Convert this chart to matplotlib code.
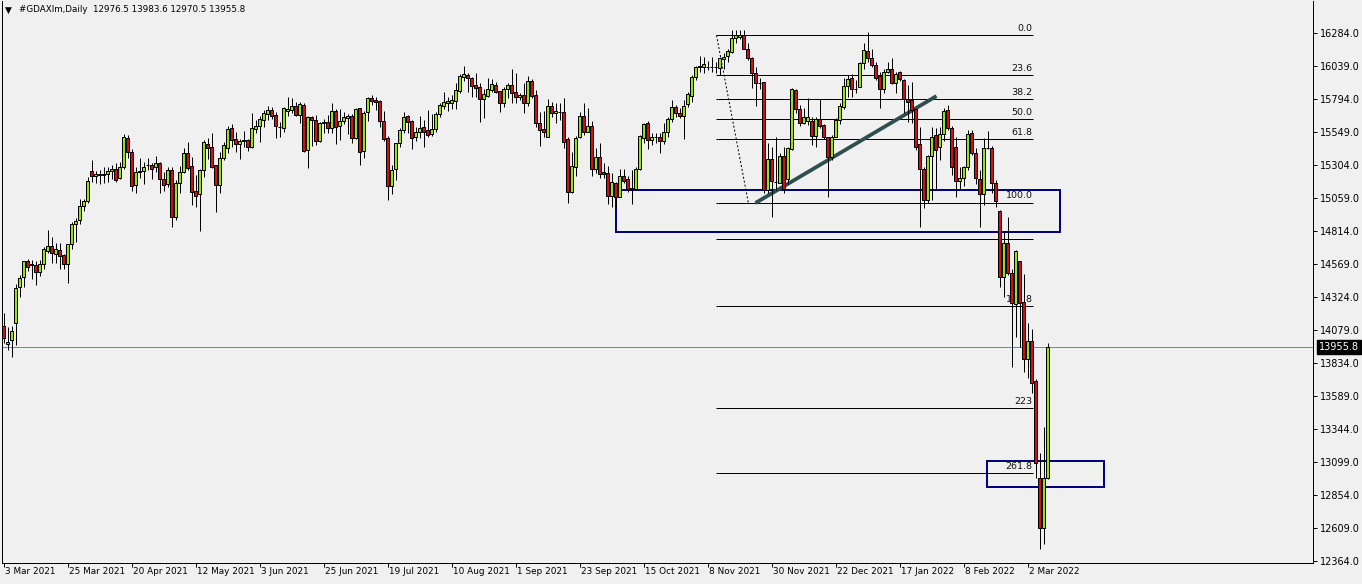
import matplotlib
matplotlib.use("Agg")
import matplotlib.pyplot as plt
from matplotlib.patches import Rectangle

W, H, DPI = 1362, 584, 100

# ---------------- data ----------------
date_labels = ["3 Mar 2021", "25 Mar 2021", "20 Apr 2021", "12 May 2021", "3 Jun 2021",
               "25 Jun 2021", "19 Jul 2021", "10 Aug 2021", "1 Sep 2021", "23 Sep 2021",
               "15 Oct 2021", "8 Nov 2021", "30 Nov 2021", "22 Dec 2021", "17 Jan 2022",
               "8 Feb 2022", "2 Mar 2022"]
label_every = 16

opens = [14111, 13975, 14005, 14129, 14396, 14470, 14589, 14569, 14560, 14512,
         14569, 14668, 14700, 14645, 14671, 14636, 14567, 14715, 14864, 14894,
         14998, 15039, 15257, 15220, 15230, 15232, 15239, 15257, 15274, 15205,
         15287, 15502, 15398, 15153, 15250, 15262, 15302, 15302, 15287, 15317,
         15198, 15161, 15265, 14916, 15170, 15254, 15391, 15294, 15109, 15086,
         15265, 15458, 15435, 15302, 15158, 15358, 15428, 15576, 15495, 15458,
         15485, 15487, 15435, 15574, 15596, 15638, 15683, 15710, 15675, 15588,
         15581, 15703, 15715, 15740, 15675, 15749, 15413, 15658, 15636, 15482,
         15618, 15621, 15581, 15705, 15591, 15628, 15655, 15665, 15502, 15725,
         15410, 15695, 15799, 15784, 15779, 15628, 15502, 15150, 15272, 15465,
         15566, 15668, 15631, 15514, 15551, 15584, 15564, 15532, 15569, 15680,
         15744, 15767, 15767, 15781, 15851, 15960, 15972, 15950, 15898, 15885,
         15796, 15819, 15863, 15898, 15853, 15767, 15866, 15900, 15844, 15807,
         15824, 15762, 15928, 15822, 15614, 15571, 15514, 15742, 15692, 15695,
         15695, 15495, 15106, 15287, 15510, 15668, 15551, 15594, 15272, 15363,
         15252, 15242, 15076, 15173, 15069, 15222, 15198, 15126, 15126, 15274,
         15507, 15614, 15490, 15510, 15510, 15484, 15549, 15643, 15735, 15690,
         15665, 15755, 15816, 15960, 16029, 16029, 16029, 16029, 16029, 16022,
         16089, 16116, 16141, 16245, 16252, 16269, 16163, 16096, 15989, 15915,
         15918, 15118, 15346, 15180, 15173, 15371, 15198, 15423, 15861, 15718,
         15614, 15631, 15633, 15522, 15643, 15601, 15510, 15361, 15514, 15638,
         15737, 15891, 15948, 15866, 15885, 16059, 16150, 16096, 16046, 15965,
         15866, 15997, 16014, 15911, 15992, 15935, 15792, 15787, 15718, 15460,
         15272, 15044, 15371, 15527, 15440, 15534, 15712, 15576, 15435, 15188,
         15205, 15292, 15544, 15391, 15198, 15089, 15428, 15428, 15168, 14963,
         14475, 14723, 14504, 14272, 14591, 14289, 13862, 13995, 13700, 12983,
         12611, 12976.5]

highs = [14203, 14104, 14109, 14418, 14487, 14592, 14604, 14599, 14589, 14599,
         14698, 14821, 14771, 14722, 14722, 14640, 14718, 14883, 14908, 15049,
         15051, 15218, 15341, 15259, 15267, 15292, 15292, 15304, 15317, 15324,
         15534, 15527, 15421, 15292, 15354, 15329, 15354, 15321, 15371, 15329,
         15254, 15292, 15292, 15193, 15297, 15428, 15475, 15363, 15230, 15272,
         15490, 15502, 15539, 15304, 15398, 15473, 15594, 15606, 15549, 15495,
         15556, 15495, 15692, 15638, 15668, 15712, 15742, 15737, 15700, 15626,
         15737, 15811, 15804, 15770, 15774, 15767, 15668, 15670, 15675, 15621,
         15648, 15675, 15767, 15718, 15720, 15700, 15683, 15680, 15725, 15730,
         15705, 15811, 15824, 15811, 15787, 15705, 15519, 15304, 15470, 15576,
         15700, 15675, 15638, 15588, 15668, 15638, 15712, 15683, 15700, 15762,
         15848, 15811, 15824, 15915, 15980, 16039, 15985, 15960, 15985, 15911,
         15866, 15948, 15941, 15923, 15853, 15885, 15911, 16017, 15985, 15841,
         15915, 15965, 15941, 15861, 15700, 15705, 15794, 15770, 15762, 15762,
         15799, 15514, 15398, 15519, 15700, 15767, 15725, 15631, 15428, 15470,
         15317, 15297, 15247, 15178, 15272, 15272, 15222, 15267, 15287, 15527,
         15618, 15628, 15539, 15539, 15539, 15614, 15663, 15787, 15749, 15725,
         15787, 15848, 15972, 16039, 16113, 16108, 16078, 16108, 16071, 16103,
         16133, 16163, 16306, 16306, 16306, 16306, 16207, 16103, 16034, 15948,
         15918, 15465, 15440, 15510, 15395, 15435, 15435, 15873, 15866, 15749,
         15725, 15799, 15663, 15658, 15792, 15608, 15514, 15527, 15651, 15762,
         15948, 15972, 15980, 15935, 16071, 16207, 16294, 16163, 16071, 15997,
         16014, 16071, 16096, 15997, 16004, 15941, 15898, 15923, 15720, 15588,
         15292, 15378, 15588, 15576, 15588, 15725, 15749, 15594, 15510, 15292,
         15297, 15564, 15564, 15428, 15267, 15502, 15559, 15445, 15193, 14968,
         14809, 14920, 14530, 14673, 14591, 14495, 14129, 14084, 13713, 13164,
         13361, 13983.6]

lows = [13981, 13931, 13879, 13968, 14322, 14396, 14519, 14455, 14415, 14480,
        14534, 14653, 14579, 14579, 14529, 14531, 14430, 14678, 14732, 14864,
        14965, 15024, 15180, 15173, 15161, 15173, 15180, 15198, 15180, 15198,
        15272, 15354, 15113, 15094, 15205, 15161, 15267, 15198, 15252, 15094,
        15113, 15143, 14841, 14896, 15098, 15242, 15267, 15007, 14995, 14816,
        15218, 15349, 15280, 14957, 15098, 15341, 15395, 15435, 15403, 15351,
        15440, 15410, 15432, 15544, 15477, 15588, 15638, 15643, 15507, 15514,
        15551, 15670, 15688, 15670, 15618, 15400, 15284, 15445, 15453, 15477,
        15539, 15544, 15539, 15460, 15490, 15606, 15534, 15470, 15497, 15304,
        15358, 15633, 15749, 15712, 15588, 15484, 15044, 15089, 15193, 15440,
        15544, 15544, 15421, 15484, 15502, 15440, 15514, 15519, 15551, 15663,
        15718, 15705, 15718, 15718, 15836, 15930, 15848, 15811, 15811, 15626,
        15655, 15807, 15848, 15836, 15700, 15737, 15799, 15762, 15762, 15787,
        15688, 15742, 15804, 15588, 15445, 15514, 15510, 15663, 15618, 15638,
        15432, 15020, 15094, 15222, 15502, 15527, 15551, 15222, 15247, 15205,
        15205, 15015, 14995, 14983, 15069, 15168, 15106, 15015, 15118, 15267,
        15465, 15421, 15453, 15465, 15395, 15460, 15510, 15626, 15663, 15651,
        15495, 15737, 15774, 15935, 15997, 15990, 16009, 15997, 15985, 15972,
        16014, 16071, 16133, 16212, 16237, 16163, 16084, 15873, 15742, 15866,
        15094, 15094, 14920, 15118, 15168, 15094, 15163, 15415, 15688, 15594,
        15608, 15599, 15453, 15440, 15576, 15499, 15064, 15341, 15510, 15608,
        15718, 15807, 15807, 15836, 15885, 16014, 16071, 16034, 15935, 15725,
        15836, 15985, 15905, 15836, 15930, 15688, 15626, 15618, 15415, 14841,
        14983, 15024, 15044, 15124, 15341, 15484, 15564, 15230, 15064, 15118,
        15150, 15267, 15378, 15163, 14841, 15007, 15420, 15094, 14995, 14401,
        14322, 14487, 13802, 14025, 13951, 13770, 13721, 13614, 12978, 12451,
        12488, 12970.5]

closes = [14018, 13990, 14072, 14389, 14463, 14589, 14549, 14560, 14512, 14567,
          14678, 14700, 14648, 14678, 14631, 14571, 14715, 14866, 14886, 14998,
          15037, 15183, 15220, 15237, 15240, 15240, 15259, 15272, 15195, 15289,
          15510, 15398, 15146, 15250, 15262, 15287, 15302, 15277, 15319, 15198,
          15153, 15265, 14916, 15170, 15254, 15391, 15284, 15106, 15076, 15267,
          15473, 15432, 15292, 15158, 15354, 15450, 15571, 15490, 15458, 15482,
          15485, 15435, 15576, 15594, 15643, 15688, 15710, 15670, 15591, 15588,
          15725, 15718, 15740, 15677, 15757, 15408, 15658, 15636, 15484, 15618,
          15623, 15581, 15707, 15588, 15631, 15660, 15668, 15502, 15720, 15403,
          15690, 15799, 15781, 15770, 15628, 15499, 15150, 15267, 15465, 15564,
          15658, 15621, 15507, 15547, 15576, 15551, 15524, 15569, 15683, 15749,
          15774, 15781, 15787, 15859, 15965, 15980, 15952, 15893, 15878, 15796,
          15833, 15866, 15905, 15848, 15767, 15868, 15900, 15841, 15807, 15822,
          15762, 15928, 15819, 15614, 15564, 15551, 15742, 15692, 15705, 15695,
          15477, 15106, 15297, 15507, 15668, 15551, 15594, 15272, 15363, 15235,
          15235, 15076, 15178, 15069, 15222, 15185, 15126, 15136, 15274, 15519,
          15606, 15490, 15510, 15510, 15484, 15549, 15646, 15735, 15688, 15666,
          15742, 15833, 15960, 16034, 16039, 16054, 16029, 16029, 16029, 16096,
          16108, 16150, 16245, 16269, 16269, 16163, 16096, 15989, 15915, 15915,
          15118, 15346, 15188, 15180, 15371, 15124, 15428, 15868, 15718, 15618,
          15658, 15658, 15522, 15643, 15594, 15514, 15361, 15514, 15638, 15742,
          15891, 15940, 15866, 15866, 16059, 16158, 16096, 16046, 15948, 15866,
          15997, 16014, 15911, 15977, 15940, 15792, 15774, 15712, 15435, 15272,
          15044, 15371, 15510, 15415, 15534, 15707, 15576, 15292, 15188, 15205,
          15292, 15534, 15391, 15205, 15089, 15428, 15428, 15168, 15039, 14475,
          14723, 14500, 14282, 14666, 14282, 13862, 13995, 13683, 13094, 12611,
          12983, 13955.8]

price_ticks = [16284.0, 16039.0, 15794.0, 15549.0, 15304.0, 15059.0, 14814.0, 14569.0,
               14324.0, 14079.0, 13834.0, 13589.0, 13344.0, 13099.0, 12854.0, 12609.0,
               12364.0]
last_price = 13955.8
header = "#GDAXIm,Daily  12976.5 13983.6 12970.5 13955.8"

# Fibonacci retracement object
fib_price_0 = 16267.0
fib_price_100 = 15025.0
fib_levels = [0.0, 23.6, 38.2, 50.0, 61.8, 100.0, 122.0, 161.8, 223.0, 261.8]
fib_texts = ["0.0", "23.6", "38.2", "50.0", "61.8", "100.0", "", "161.8", "223", "261.8"]
fib_bar_start, fib_bar_end = 178.0, 257.25
fib_anchor_bars = (178.25, 186.2)

# rectangles (bar_from, bar_to, price_low, price_high)
rects = [(153.0, 264.0, 14809.0, 15118.0),
         (245.9, 275.0, 12916.0, 13109.0)]
# trend line (bar, price) -> (bar, price)
trend = ((188.0, 15022.0), (233.25, 15816.0))

# ---------------- layout ----------------
BG = "#f0f0f0"
BULL = "#96e01e"
BEAR = "#d01010"
AX_L, AX_R, AX_T, AX_B = 2, 1313, 1, 563
P_PER_PX = 245.0 / 33.0
Y_REF_PX, Y_REF_P = 33, 16284.0

fig = plt.figure(figsize=(W / DPI, H / DPI), dpi=DPI, facecolor=BG)
ax = fig.add_axes([AX_L / W, 1 - AX_B / H, (AX_R - AX_L) / W, (AX_B - AX_T) / H])
ax.set_facecolor(BG)

ymin = Y_REF_P - (AX_B - Y_REF_PX) * P_PER_PX
ymax = Y_REF_P + (Y_REF_PX - AX_T) * P_PER_PX
ax.set_ylim(ymin, ymax)
# bar i centred at pixel 3.5 + 4 i
xmin = (AX_L - 3.5) / 4.0
xmax = (AX_R - 3.5) / 4.0
ax.set_xlim(xmin, xmax)

n = len(opens)
xs = list(range(n))
px = 72.0 / DPI  # one pixel in points

# bid line
ax.axhline(last_price, color="#7888a0", lw=px, zorder=1)

# fibo
rng = fib_price_0 - fib_price_100
for lev, txt in zip(fib_levels, fib_texts):
    p = fib_price_0 - rng * lev / 100.0
    ax.plot([fib_bar_start, fib_bar_end], [p, p], color="black", lw=px, zorder=2,
            solid_capstyle="butt")
    if txt:
        ax.annotate(txt, xy=(fib_bar_end, p), xytext=(0, 1.5), textcoords="offset points",
                    ha="right", va="bottom", fontsize=6.8, color="#101010", zorder=2)
ax.plot(fib_anchor_bars, [fib_price_0, fib_price_100], color="black", lw=px,
        linestyle=(0, (2, 2)), zorder=2)

for b0, b1, plo, phi in rects:
    ax.add_patch(Rectangle((b0, plo), b1 - b0, phi - plo, fill=False, ec="#000080",
                           lw=2 * px, zorder=2, clip_on=False))

ax.plot([trend[0][0], trend[1][0]], [trend[0][1], trend[1][1]], color="#2f4f4f",
        lw=3.8 * px, zorder=2, solid_capstyle="butt")

# candles
ax.vlines(xs, lows, highs, color="black", lw=px, zorder=4)
bottoms = [min(o, c) for o, c in zip(opens, closes)]
heights = [max(abs(c - o), 1.0) for o, c in zip(opens, closes)]
colors = [BULL if c >= o else BEAR for o, c in zip(opens, closes)]
ax.bar(xs, heights, bottom=bottoms, width=0.65, color=colors, edgecolor="black",
       linewidth=px, zorder=5)

# axes styling
ax.spines["top"].set_visible(False)
for s in ["left", "right", "bottom"]:
    ax.spines[s].set_color("black")
    ax.spines[s].set_linewidth(px)

ax.yaxis.tick_right()
ax.set_yticks(price_ticks)
ax.set_yticklabels(["%.1f" % v for v in price_ticks])
ax.tick_params(axis="y", direction="out", length=3, width=px, pad=2, labelsize=7,
               colors="black")

tick_pos = [i * label_every for i in range(len(date_labels))]
ax.set_xticks(tick_pos)
ax.set_xticklabels([])
ax.tick_params(axis="x", direction="out", length=3, width=px, colors="black")
for tp, lab in zip(tick_pos, date_labels):
    ax.annotate(lab, xy=(tp, 0), xycoords=("data", "axes fraction"), xytext=(1.2, -3),
                textcoords="offset points", ha="left", va="top", fontsize=6.4,
                annotation_clip=False)

# last price box
ax.annotate("%.1f" % last_price, xy=(1, last_price), xycoords=("axes fraction", "data"),
            xytext=(4, 0), textcoords="offset points", ha="left", va="center",
            fontsize=7, color="white", annotation_clip=False,
            bbox=dict(boxstyle="square,pad=0.2", fc="black", ec="black"))

fig.text(5 / W, 1 - 10 / H, "\u25BC", fontsize=6.5, va="center", ha="left")
fig.text(19 / W, 1 - 10 / H, header, fontsize=6.3, va="center", ha="left")

fig.savefig("out.png", dpi=DPI, facecolor=BG)
